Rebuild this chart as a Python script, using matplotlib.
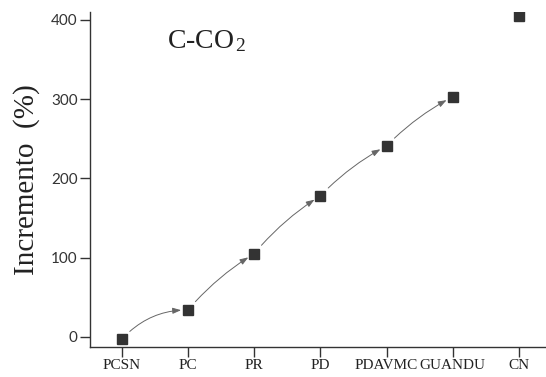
import matplotlib
matplotlib.use("Agg")
import matplotlib.pyplot as plt
from matplotlib.patches import FancyArrowPatch

plt.rcParams["mathtext.fontset"] = "custom"
plt.rcParams["mathtext.rm"] = "Liberation Serif"
plt.rcParams["mathtext.it"] = "Liberation Serif:italic"

categories = ["PCSN", "PC", "PR", "PD", "PDAVMC", "GUANDU", "CN"]
values = [-3, 34, 105, 178, 241, 303, 405]
yticks = [0, 100, 200, 300, 400]

fig = plt.figure(figsize=(5.46, 3.77), dpi=100)
ax = fig.add_axes([0.165, 0.08, 0.835, 0.888])

x = list(range(len(categories)))
ax.plot(x, values, linestyle="none", marker="s", markersize=7.5,
        color="#333333", zorder=3)

# arrows between consecutive points (not to CN)
rads = [-0.22, -0.08, -0.08, -0.08, -0.08]
for i in range(5):
    arr = FancyArrowPatch((x[i], values[i]), (x[i + 1], values[i + 1]),
                          connectionstyle=f"arc3,rad={rads[i]}",
                          arrowstyle="-|>,head_length=5,head_width=1.8",
                          shrinkA=8, shrinkB=5, color="#666666",
                          linewidth=0.7, zorder=2)
    ax.add_patch(arr)

ax.set_xlim(-0.48, 6.41)
ax.set_ylim(-12.6, 410)
ax.set_xticks(x)
ax.set_xticklabels(categories, fontfamily="Liberation Serif", fontsize=11,
                   color="#222222")
ax.set_yticks(yticks)
ax.set_yticklabels([str(v) for v in yticks], fontfamily="Lato", fontsize=11,
                   color="#333333")
ax.tick_params(axis="both", direction="out", length=7, width=1,
               color="#333333", pad=2)
for s in ["top", "right"]:
    ax.spines[s].set_visible(False)
for s in ["left", "bottom"]:
    ax.spines[s].set_color("#333333")
    ax.spines[s].set_linewidth(1)

ax.set_ylabel("Incremento  (%)", fontfamily="Liberation Serif", fontsize=21,
              color="#222222", labelpad=8)
ax.text(0.68, 365, "C-CO$_{\\,2}$", fontfamily="Liberation Serif", fontsize=20,
        color="#222222", ha="left", va="baseline")

fig.savefig("out.png", dpi=100)
